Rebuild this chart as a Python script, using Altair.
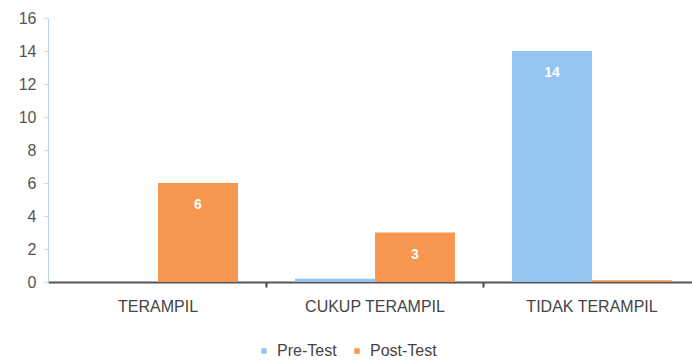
import altair as alt
import pandas as pd

categories = ["TERAMPIL", "CUKUP TERAMPIL", "TIDAK TERAMPIL"]
series = ["Pre-Test", "Post-Test"]
pre_values = [0, 0.2, 14]
post_values = [6, 3, 0.1]
pre_labels = ["", "", "14"]
post_labels = ["6", "3", ""]
y_ticks = [0, 2, 4, 6, 8, 10, 12, 14, 16]
colors = ["#93C5F0", "#F7974F"]

rows = []
for c, v, l in zip(categories, pre_values, pre_labels):
    rows.append({"cat": c, "series": "Pre-Test", "value": v, "label": l})
for c, v, l in zip(categories, post_values, post_labels):
    rows.append({"cat": c, "series": "Post-Test", "value": v, "label": l})
df = pd.DataFrame(rows)

FONT = "Liberation Sans"

x_enc = alt.X(
    "cat:N",
    sort=categories,
    title=None,
    scale=alt.Scale(paddingInner=0.263, paddingOuter=0.1155, align=0.6),
    axis=alt.Axis(
        labelAngle=0,
        labelFontSize=16,
        labelFont=FONT,
        labelColor="#444444",
        labelPadding=11,
        domainColor="#555555",
        domainWidth=2,
        tickColor="#444444",
        tickWidth=2,
        tickSize=5,
        bandPosition=1.178,
    ),
)
xo = alt.XOffset("series:N", sort=series, scale=alt.Scale(paddingInner=0, paddingOuter=0))
y_enc = alt.Y(
    "value:Q",
    title=None,
    scale=alt.Scale(domain=[0, 16], nice=False),
    axis=alt.Axis(
        values=y_ticks,
        tickCount=9,
        grid=False,
        labelOverlap=False,
        labelFontSize=16,
        labelFont=FONT,
        labelColor="#555555",
        labelPadding=8,
        domainColor="#B9D5EE",
        domainWidth=1,
        tickColor="#C9D9E9",
        tickSize=4,
    ),
)

bars = alt.Chart(df).mark_bar().encode(
    x=x_enc,
    xOffset=xo,
    y=y_enc,
    color=alt.Color(
        "series:N",
        sort=series,
        scale=alt.Scale(domain=series, range=colors),
        legend=alt.Legend(
            title=None,
            orient="none",
            direction="horizontal",
            legendX=208,
            legendY=325,
            symbolType="square",
            symbolSize=30,
            symbolStrokeWidth=0,
            labelFontSize=16,
            labelFont=FONT,
            labelColor="#444444",
            columnPadding=12,
            labelOffset=5,
        ),
    ),
)

text = alt.Chart(df).mark_text(
    color="white", fontWeight="bold", fontSize=14, font=FONT, baseline="middle", dy=22
).encode(
    x=x_enc,
    xOffset=xo,
    y=y_enc,
    text="label:N",
)

chart = (
    alt.layer(bars, text)
    .properties(
        width=644,
        height=264,
        autosize=alt.AutoSizeParams(type="none"),
        padding={"left": 48, "top": 18, "right": 0, "bottom": 79},
    )
    .configure_view(stroke=None)
)

chart.save("out.html", embed_options={"renderer": "svg", "actions": False})
